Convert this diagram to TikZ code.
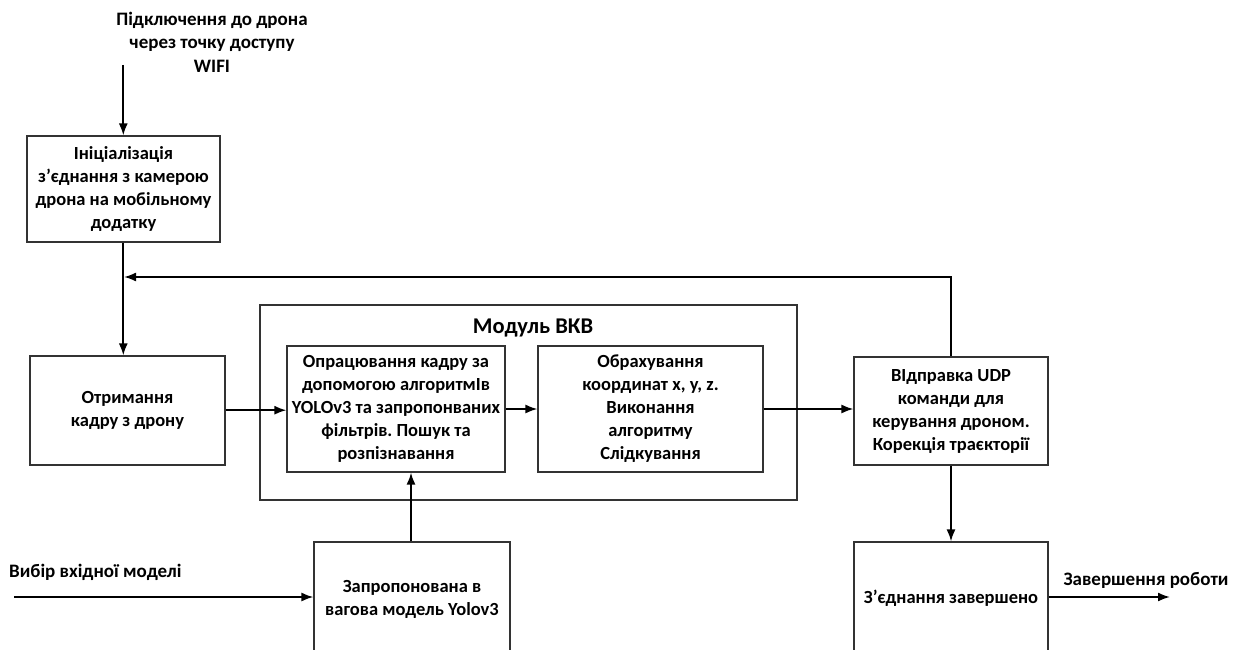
\documentclass[tikz,border=0pt]{standalone}
\usepackage{fontspec}
\setmainfont{Carlito}
\usetikzlibrary{arrows.meta}
\frenchspacing
\begin{document}
\begin{tikzpicture}[x=1pt,y=-1pt,
  box/.style={draw=black!80,line width=1.1pt,rectangle,inner sep=0pt,align=center,
    font=\fontsize{18.5}{23}\selectfont\bfseries},
  lbl/.style={inner sep=0pt,align=center,font=\fontsize{19}{23.5}\selectfont\bfseries},
  arr/.style={line width=1.9pt,-{Latex[length=12pt,width=9pt]}}]
\useasboundingbox (0,0) rectangle (1240,650);
\clip (0,0) rectangle (1240,650);
\fill[white] (0,0) rectangle (1240,650);

% texts at top
\node[lbl] (top) at (212,42) {Підключення до дрона\\через точку доступу\\WIFI};
\coordinate (topin) at (123.3,65);

% boxes
\node[box,minimum width=193pt,minimum height=106pt] (b1) at (123.5,189)
  {Ініціалізація\\з’єднання з камерою\\дрона на мобільному\\додатку};
\node[box,minimum width=195pt,minimum height=109pt] (b2) at (127.5,410.5)
  {Отримання\\кадру з дрону};
\node[box,minimum width=537pt,minimum height=195pt] (mod) at (528.5,402.5) {};
\node[lbl,font=\fontsize{22.5}{26}\selectfont\bfseries] (modt) at (533,328) {Модуль ВКВ};
\node[box,minimum width=218pt,minimum height=126pt] (ba) at (396,409)
  {Опрацювання кадру за\\допомогою алгоритмІв\\YOLOv3 та запропонваних\\фільтрів. Пошук та\\розпізнавання};
\node[box,minimum width=225pt,minimum height=126pt] (bb) at (650.5,409)
  {Обрахування\\координат x, y, z.\\Виконання\\алгоритму\\Слідкування};
\node[box,minimum width=194pt,minimum height=108pt] (b4) at (951,411)
  {ВІдправка UDP\\команди для\\керування дроном.\\Корекція траєкторії};
\node[box,minimum width=194pt,minimum height=160pt] (b5) at (951,622) {};
\node[lbl,font=\fontsize{18.5}{23}\selectfont\bfseries] (t5) at (951,598) {З’єднання завершено};
\node[box,minimum width=196pt,minimum height=160pt] (b3) at (412,622) {};
\node[lbl,font=\fontsize{18.5}{23}\selectfont\bfseries] (t3) at (412,599) {Запропонована в\\вагова модель Yolov3};

% side labels
\node[lbl,anchor=west] (inl) at (9,572) {Вибір вхідної моделі};
\coordinate (inp) at (14,597);
\node[lbl] (outl) at (1146,580) {Завершення роботи};
\coordinate (outp) at (1170,597);
\coordinate (fb) at (124,277);
\coordinate (b2out) at ([yshift=0.3pt]b2.east);

% connectors
\draw[arr] (topin) -- (topin |- b1.north);
\draw[arr] (topin |- b1.south) -- (topin |- b2.north);
\draw[arr] (b4.north) |- (fb);
\draw[arr] (b2out) -- (b2out -| ba.west);
\draw[arr] (ba.east |- bb.west) -- (bb.west);
\draw[arr] (bb.east) -- (bb.east -| b4.west);
\draw[arr] (b4.south) -- (b5.north);
\draw[arr] (inp) -- (inp -| b3.west);
\draw[arr] (b3.north -| 411,0) -- (411,0 |- ba.south);
\draw[arr] (b5.east |- outp) -- (outp);
\end{tikzpicture}
\end{document}
